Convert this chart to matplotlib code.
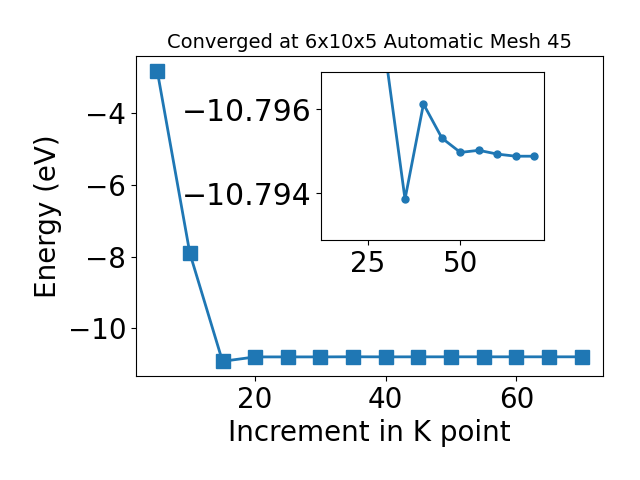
import matplotlib
matplotlib.use("Agg")
import matplotlib.pyplot as plt

kpoints = [5, 10, 15, 20, 25, 30, 35, 40, 45, 50, 55, 60, 65, 70]
energy = [-2.82, -7.91, -10.92, -10.7975, -10.7973, -10.7971, -10.79386,
          -10.79612, -10.79531, -10.79497, -10.79502, -10.79493, -10.79488, -10.79488]

inset_start = 2  # inset shows data from k = 15 onward
inset_ylim = (-10.79289, -10.79688)

fig = plt.figure(figsize=(6.4, 4.8), dpi=100)
ax = fig.add_subplot(111)
fig.subplots_adjust(left=0.2125, right=0.942, top=0.883, bottom=0.217)
ax.plot(kpoints, energy, marker='s', markersize=10, linewidth=2, color='#1f77b4')
ax.set_title("Converged at 6x10x5 Automatic Mesh 45", fontsize=14)
ax.set_xlabel("Increment in K point", fontsize=20)
ax.set_ylabel("Energy (eV)", fontsize=20)
ax.tick_params(labelsize=20)

ins = fig.add_axes([0.5016, 0.5, 0.349, 0.35])
ins.plot(kpoints[inset_start:], energy[inset_start:], marker='o', markersize=5,
         linewidth=2, color='#1f77b4')
ins.set_ylim(*inset_ylim)
ins.set_yticks([-10.796, -10.794])
ins.ticklabel_format(useOffset=False)
ins.set_xticks([25, 50])
ins.tick_params(axis='x', labelsize=20)
ins.tick_params(axis='y', labelsize=21.5)

fig.savefig("out.png", dpi=100)
